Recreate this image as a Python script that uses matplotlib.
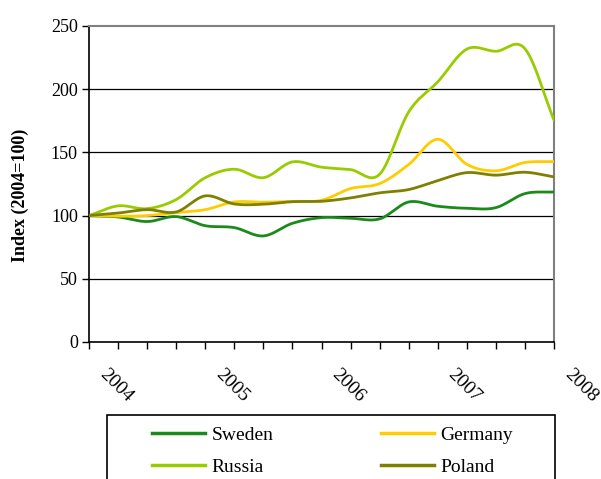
import numpy as np
import matplotlib
matplotlib.use("Agg")
import matplotlib.pyplot as plt
from matplotlib.patches import Rectangle
from matplotlib.lines import Line2D
import matplotlib.transforms as mtransforms

quarters = list(range(17))
year_ticks = [0, 4, 8, 12, 16]
year_labels = ["2004", "2005", "2006", "2007", "2008"]

sweden = [100, 98.9, 95.3, 99.2, 92.0, 90.5, 83.9, 93.9, 98.4, 97.9, 97.4, 110.8, 107.4, 105.8, 106.3, 117.4, 118.7]
germany = [100, 99.5, 100.0, 102.4, 104.7, 110.8, 110.6, 111.3, 112.1, 121.4, 125.3, 140.4, 160.4, 140.6, 135.4, 142.0, 142.7]
russia = [100, 107.7, 105.5, 112.7, 130.0, 136.7, 130.0, 142.5, 138.3, 136.4, 132.7, 182.0, 205.8, 231.7, 230.0, 232.0, 175.5]
poland = [100, 102.0, 104.7, 102.9, 115.6, 109.2, 109.0, 111.0, 111.3, 114.0, 118.0, 120.6, 127.7, 134.0, 132.0, 134.3, 130.6]

series = [("Sweden", sweden, "#1a8a1a"), ("Germany", germany, "#ffcc00"),
          ("Russia", russia, "#99cc00"), ("Poland", poland, "#808000")]


def smooth(x, y, n=20):
    x = np.asarray(x, float); y = np.asarray(y, float)
    px = np.concatenate([[2 * x[0] - x[1]], x, [2 * x[-1] - x[-2]]])
    py = np.concatenate([[2 * y[0] - y[1]], y, [2 * y[-1] - y[-2]]])
    xs, ys = [], []
    t = np.linspace(0, 1, n, endpoint=False)
    for i in range(1, len(px) - 2):
        p0, p1, p2, p3 = (np.array([px[j], py[j]]) for j in (i - 1, i, i + 1, i + 2))
        b1 = p1 + (p2 - p0) / 6
        b2 = p2 - (p3 - p1) / 6
        pts = ((1 - t) ** 3)[:, None] * p1 + (3 * (1 - t) ** 2 * t)[:, None] * b1 \
            + (3 * (1 - t) * t ** 2)[:, None] * b2 + (t ** 3)[:, None] * p2
        xs.extend(pts[:, 0]); ys.extend(pts[:, 1])
    xs.append(x[-1]); ys.append(y[-1])
    return np.array(xs), np.array(ys)


plt.rcParams['font.family'] = ['Liberation Serif', 'DejaVu Serif']

fig = plt.figure(figsize=(6.01, 4.79), dpi=100)
ax = fig.add_axes([89 / 601, 1 - 342 / 479, (554 - 89) / 601, (342 - 26) / 479])

for y in [50, 100, 150, 200]:
    ax.axhline(y, color="black", lw=0.9, zorder=1)

handles = {}
for name, vals, col in series:
    sx, sy = smooth(quarters, vals)
    ax.plot(sx, sy, color=col, lw=2.0, zorder=3, solid_capstyle="round")
    handles[name] = Line2D([], [], color=col, lw=2.5)

ax.set_xlim(0, 16)
ax.set_ylim(0, 250)
ax.set_yticks([0, 50, 100, 150, 200, 250])
ax.set_xticks(quarters)
ax.set_xticklabels([""] * 17)
for xt, lab in zip(year_ticks, year_labels):
    tr = ax.get_xaxis_transform() + mtransforms.ScaledTranslation(7 / 100, -24 / 100, fig.dpi_scale_trans)
    ax.text(xt, 0, lab, transform=tr, rotation=-45, ha="left", va="top", fontsize=14)

ax.tick_params(axis="both", direction="out", length=5, width=1, color="black", labelsize=13)
ax.tick_params(axis="y", pad=3)
for s in ["top", "right"]:
    ax.spines[s].set_color("#808080")
    ax.spines[s].set_linewidth(1.5)
for s in ["left", "bottom"]:
    ax.spines[s].set_color("black")
    ax.spines[s].set_linewidth(1.2)

fig.text(20 / 601, 1 - 195 / 479, "Index (2004=100)", rotation=90, ha="center", va="center",
         fontsize=13, fontweight="bold")

fig.patches.append(Rectangle((107 / 601, -0.05), (555 - 107) / 601, 0.05 + (479 - 415) / 479,
                             transform=fig.transFigure, fill=False, edgecolor="black", lw=1.2))
order = ["Sweden", "Russia", "Germany", "Poland"]
fig.legend([handles[k] for k in order], order, ncol=2, frameon=False,
           loc="upper left", bbox_to_anchor=(152 / 601, 1 - 426 / 479),
           borderpad=0, borderaxespad=0, fontsize=14, handlelength=2.7,
           handletextpad=0.35, columnspacing=5.55, labelspacing=0.75)

fig.savefig("out.png", dpi=100)
